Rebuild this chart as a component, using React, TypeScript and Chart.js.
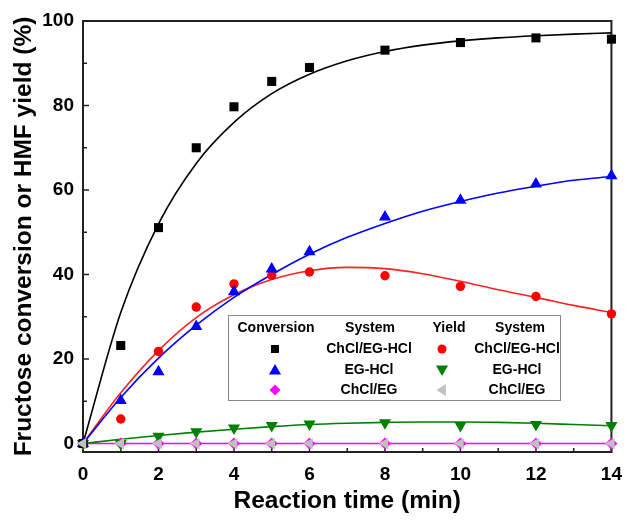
import React, { useEffect, useRef } from "react";
import { Chart, registerables } from "chart.js";

Chart.register(...registerables);

// ---- data ----
const times = [0, 1, 2, 3, 4, 5, 6, 8, 10, 12, 14];
const convChClEGHCl = [0, 23.2, 51.1, 70.0, 79.7, 85.7, 89.0, 93.1, 94.9, 96.0, 95.7];
const convEGHCl = [0, 10.2, 17.0, 27.7, 35.9, 41.3, 45.4, 53.6, 57.6, 61.4, 63.4];
const convChClEG = [0, 0, 0, 0, 0, 0, 0, 0, 0, 0, 0];
const yieldChClEGHCl = [0, 5.8, 21.8, 32.3, 37.8, 39.8, 40.6, 39.7, 37.2, 34.8, 30.7];
const yieldEGHCl = [0, 0, 1.7, 2.8, 3.7, 4.3, 4.6, 4.9, 4.3, 4.5, 4.3];
const yieldChClEG = [0, 0, 0, 0, 0, 0, 0, 0, 0, 0, 0];

// fitted curves
const fitTimes = [0, 1, 2, 3, 4, 5, 6, 7, 8, 9, 10, 11, 12, 13, 14];
const fitConvChClEGHCl = [0, 31, 52, 66.3, 76, 82.8, 87.4, 90.6, 92.8, 94.3, 95.3, 96.0, 96.5, 96.9, 97.2];
const fitConvEGHCl = [0, 10.9, 20.2, 28, 34.6, 40, 44.8, 48.8, 52.1, 55, 57.3, 59.3, 60.9, 62.3, 63.2];
const fitConvChClEG = [0, 0, 0, 0, 0, 0, 0, 0, 0, 0, 0, 0, 0, 0, 0];
const fitYieldChClEGHCl = [0, 12, 22, 29.8, 35.2, 38.8, 40.9, 41.7, 41.4, 40.2, 38.4, 36.4, 34.6, 32.7, 31];
const fitYieldEGHCl = [0, 1, 1.9, 2.7, 3.4, 4.0, 4.5, 4.8, 5.0, 5.1, 5.1, 5.0, 4.8, 4.5, 4.2];

const xMajorTicks = [0, 2, 4, 6, 8, 10, 12, 14];
const xMinorTicks = [1, 3, 5, 7, 9, 11, 13];
const yMajorTicks = [0, 20, 40, 60, 80, 100];
const yMinorTicks = [10, 30, 50, 70, 90];

const xTitle = "Reaction time (min)";
const yTitle = "Fructose conversion or HMF yield (%)";
const legendHeaders = ["Conversion", "System", "Yield", "System"];
const systems = ["ChCl/EG-HCl", "EG-HCl", "ChCl/EG"];

const FONT = "'Liberation Sans', Arial, Helvetica, sans-serif";

const pts = (ys: number[]) => times.map((t, i) => ({ x: t, y: ys[i] }));
const fit = (ys: number[]) => fitTimes.map((t, i) => ({ x: t, y: ys[i] }));

function marker(ctx: CanvasRenderingContext2D, kind: string, x: number, y: number, s: number, color: string) {
  ctx.save();
  ctx.fillStyle = color;
  ctx.beginPath();
  if (kind === "square") {
    ctx.rect(x - s / 2, y - s / 2, s, s);
  } else if (kind === "circle") {
    ctx.arc(x, y, s / 2, 0, Math.PI * 2);
  } else if (kind === "up") {
    ctx.moveTo(x, y - s * 0.55);
    ctx.lineTo(x + s * 0.55, y + s * 0.4);
    ctx.lineTo(x - s * 0.55, y + s * 0.4);
  } else if (kind === "down") {
    ctx.moveTo(x, y + s * 0.55);
    ctx.lineTo(x + s * 0.55, y - s * 0.4);
    ctx.lineTo(x - s * 0.55, y - s * 0.4);
  } else if (kind === "left") {
    ctx.moveTo(x - s * 0.5, y);
    ctx.lineTo(x + s * 0.35, y - s * 0.55);
    ctx.lineTo(x + s * 0.35, y + s * 0.55);
  } else if (kind === "diamond") {
    ctx.moveTo(x, y - s / 2);
    ctx.lineTo(x + s / 2, y);
    ctx.lineTo(x, y + s / 2);
    ctx.lineTo(x - s / 2, y);
  }
  ctx.closePath();
  ctx.fill();
  ctx.restore();
}

const framePlugin = {
  id: "frameTicks",
  beforeDatasetsDraw(chart: any) {
    const { ctx, chartArea: a, scales } = chart;
    const x = scales.x;
    const y = scales.y;
    ctx.save();
    ctx.strokeStyle = "#222";
    ctx.lineWidth = 2;
    ctx.strokeRect(a.left, a.top, a.right - a.left, a.bottom - a.top);
    ctx.lineWidth = 1.5;
    ctx.beginPath();
    xMajorTicks.forEach((v) => {
      const p = x.getPixelForValue(v);
      ctx.moveTo(p, a.bottom);
      ctx.lineTo(p, a.bottom - 6);
    });
    xMinorTicks.forEach((v) => {
      const p = x.getPixelForValue(v);
      ctx.moveTo(p, a.bottom);
      ctx.lineTo(p, a.bottom - 4);
    });
    yMajorTicks.forEach((v) => {
      const p = y.getPixelForValue(v);
      ctx.moveTo(a.left, p);
      ctx.lineTo(a.left + 6, p);
    });
    yMinorTicks.forEach((v) => {
      const p = y.getPixelForValue(v);
      ctx.moveTo(a.left, p);
      ctx.lineTo(a.left + 4, p);
    });
    ctx.stroke();
    ctx.restore();
  },
};

const legendPlugin = {
  id: "tableLegend",
  afterDraw(chart: any) {
    const ctx = chart.ctx as CanvasRenderingContext2D;
    ctx.save();
    ctx.fillStyle = "#fff";
    ctx.fillRect(228, 315, 333, 85);
    ctx.strokeStyle = "#888";
    ctx.lineWidth = 1;
    ctx.strokeRect(228.5, 315.5, 332, 85);
    ctx.fillStyle = "#000";
    ctx.font = `bold 14px ${FONT}`;
    ctx.textAlign = "center";
    ctx.textBaseline = "middle";
    const hx = [276, 370, 449, 520];
    legendHeaders.forEach((h, i) => ctx.fillText(h, hx[i], 328));
    const rows = [349, 370, 390];
    systems.forEach((s, i) => {
      ctx.fillText(s, 369, rows[i]);
      ctx.fillText(s, 517, rows[i]);
    });
    marker(ctx, "square", 275, rows[0], 8, "#000");
    marker(ctx, "up", 275, rows[1], 11, "#0000ff");
    marker(ctx, "diamond", 275, rows[2], 11, "#ff00ff");
    marker(ctx, "circle", 442, rows[0], 9, "#ff0000");
    marker(ctx, "down", 442, rows[1], 11, "#008000");
    marker(ctx, "left", 442, rows[2], 11, "#c0c0c0");
    ctx.restore();
  },
};

export default function App() {
  const ref = useRef<HTMLCanvasElement>(null);
  useEffect(() => {
    if (!ref.current) return;
    const fitLine = (label: string, data: any[], color: string) => ({
      type: "line" as const,
      label,
      data,
      borderColor: color,
      borderWidth: 1.6,
      pointRadius: 0,
      cubicInterpolationMode: "monotone" as const,
      fill: false,
      order: 10,
      clip: false as any,
    });
    const scatter = (label: string, data: any[], color: string, style: string, r: number, rot: number, order: number) => ({
      type: "line" as const,
      label,
      data,
      showLine: false,
      backgroundColor: color,
      borderColor: color,
      borderWidth: 0,
      pointStyle: style as any,
      pointRadius: r,
      pointRotation: rot,
      pointBorderWidth: 0,
      order,
      clip: false as any,
    });
    const chart = new Chart(ref.current, {
      type: "line",
      data: {
        datasets: [
          fitLine("fit1", fit(fitConvChClEGHCl), "#000000"),
          fitLine("fit2", fit(fitConvEGHCl), "#0000ff"),
          fitLine("fit4", fit(fitYieldChClEGHCl), "#ff2020"),
          fitLine("fit5", fit(fitYieldEGHCl), "#008000"),
          fitLine("fit3", fit(fitConvChClEG), "#ff00ff"),
          scatter("Conversion ChCl/EG-HCl", pts(convChClEGHCl), "#000000", "rect", 6.4, 0, 5),
          scatter("Conversion EG-HCl", pts(convEGHCl), "#0000ff", "triangle", 7, 0, 5),
          scatter("Conversion ChCl/EG", pts(convChClEG), "#ff00ff", "rectRot", 6, 0, 6),
          scatter("Yield ChCl/EG-HCl", pts(yieldChClEGHCl), "#ff0000", "circle", 4.7, 0, 5),
          scatter("Yield EG-HCl", pts(yieldEGHCl), "#008000", "triangle", 7, 180, 5),
          scatter("Yield ChCl/EG", pts(yieldChClEG), "#c0c0c0", "triangle", 6.5, 270, 4),
        ],
      },
      options: {
        animation: false,
        responsive: false,
        devicePixelRatio: 1,
        layout: { padding: { top: 21, right: 13, left: 0, bottom: 0 } },
        plugins: { legend: { display: false }, tooltip: { enabled: false } },
        scales: {
          x: {
            type: "linear",
            min: 0,
            max: 14,
            grid: { display: false, drawTicks: false },
            border: { display: false },
            afterBuildTicks: (s: any) => {
              s.ticks = xMajorTicks.map((v) => ({ value: v }));
            },
            afterFit: (s: any) => {
              s.height = 68;
            },
            ticks: {
              color: "#000",
              padding: 11,
              maxRotation: 0,
              font: { family: FONT, size: 19, weight: "bold" },
              callback: (v: any) => String(v),
            },
            title: {
              display: true,
              text: xTitle,
              color: "#000",
              font: { family: FONT, size: 24.5, weight: "bold", lineHeight: 1.2 },
              padding: { top: 0, bottom: 4.5 },
            },
          },
          y: {
            type: "linear",
            min: -2,
            max: 100,
            grid: { display: false, drawTicks: false },
            border: { display: false },
            afterBuildTicks: (s: any) => {
              s.ticks = yMajorTicks.map((v) => ({ value: v }));
            },
            afterFit: (s: any) => {
              s.width = 83;
            },
            ticks: {
              color: "#000",
              padding: 9,
              font: { family: FONT, size: 19, weight: "bold" },
              callback: (v: any) => String(v),
            },
            title: {
              display: true,
              text: yTitle,
              color: "#000",
              font: { family: FONT, size: 24.5, weight: "bold", lineHeight: 1.2 },
              padding: { top: 9.5, bottom: 0 },
            },
          },
        },
      },
      plugins: [framePlugin, legendPlugin],
    });
    return () => chart.destroy();
  }, []);
  return (
    <div style={{ position: "absolute", left: 0, top: 0, width: 633, height: 520, background: "#fff" }}>
      <canvas ref={ref} width={633} height={520} />
    </div>
  );
}
